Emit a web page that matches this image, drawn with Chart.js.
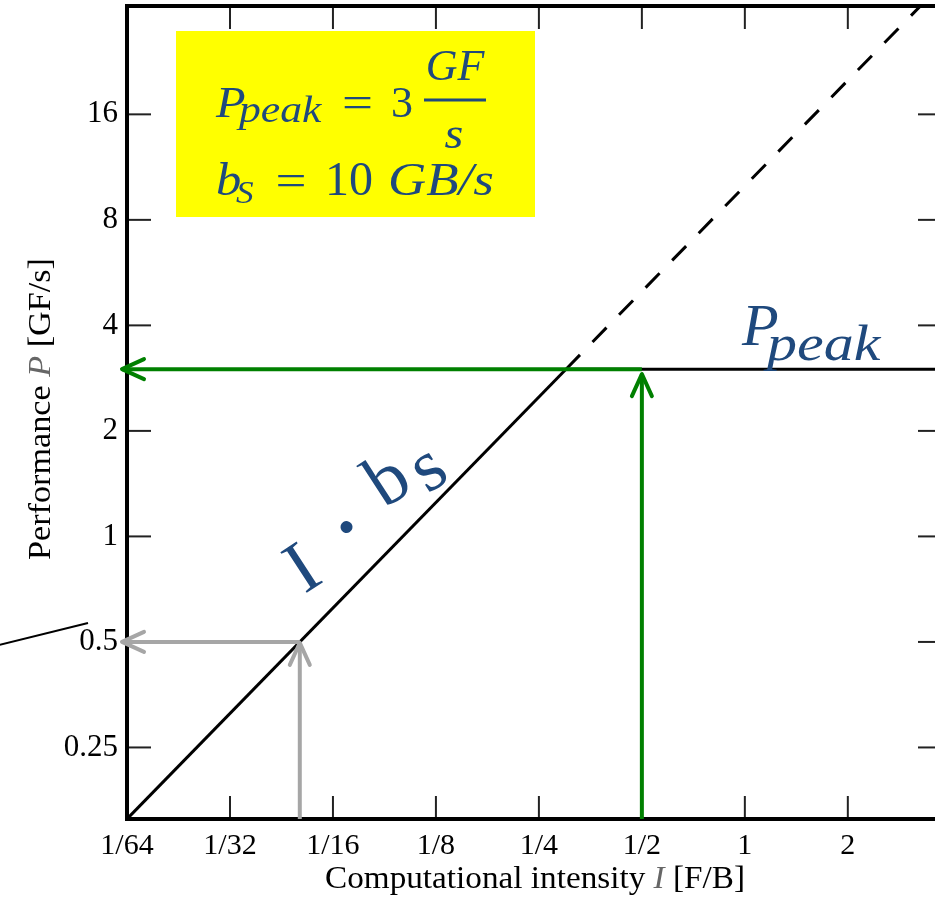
<!DOCTYPE html>
<html><head><meta charset="utf-8">
<script src="https://cdn.jsdelivr.net/npm/chart.js@4/dist/chart.umd.min.js"></script>
<style>
html,body{margin:0;padding:0;background:#fff;overflow:hidden;width:935px;height:898px}
#wrap{width:960px;height:898px}
canvas{display:block}
</style>
</head><body><div id="wrap"><canvas id="c" width="960" height="898"></canvas></div>
<script>
// ---- data ----
const xTickValues = [1/64, 1/32, 1/16, 1/8, 1/4, 1/2, 1, 2];
const xTickLabels = ['1/64', '1/32', '1/16', '1/8', '1/4', '1/2', '1', '2'];
const yTickValues = [0.25, 0.5, 1, 2, 4, 8, 16];
const yTickLabels = ['0.25', '0.5', '1', '2', '4', '8', '16'];
const xRange = [1/64, 3.77];
const yRange = [0.15625, 32.6];
const memBoundI = [1/64, 0.3];
const memBoundP = [0.15625, 3];
const memDashedI = [0.3, 3.6];
const memDashedP = [3, 36];
const peakI = [0.3, 3.77];
const peakP = [3, 3];
const greenArrowI = 0.5, greenArrowP = 3;
const grayArrowI = 0.05, grayArrowP = 0.5;

const BLUE = '#1F497D';
const GREEN = 'rgb(0,128,0)';
const GRAY = 'rgb(166,166,166)';

const pts = (xs, ys) => xs.map((x, i) => ({x: x, y: ys[i]}));

function seg(c, x1, y1, x2, y2) { c.beginPath(); c.moveTo(x1, y1); c.lineTo(x2, y2); c.stroke(); }
function arrow(c, x1, y1, x2, y2, color, w) {
  c.save(); c.strokeStyle = color; c.lineWidth = w; c.lineCap = 'butt';
  seg(c, x1, y1, x2, y2);
  const ang = Math.atan2(y2 - y1, x2 - x1), L = 22, H = 10;
  const bx = -Math.cos(ang), by = -Math.sin(ang), px = -Math.sin(ang), py = Math.cos(ang);
  c.lineCap = 'round'; c.lineJoin = 'round';
  c.beginPath();
  c.moveTo(x2 + L * bx + H * px, y2 + L * by + H * py);
  c.lineTo(x2, y2);
  c.lineTo(x2 + L * bx - H * px, y2 + L * by - H * py);
  c.stroke(); c.restore();
}
function txt(c, s, x, y, font, color, align, sx) {
  c.save(); c.font = font; c.fillStyle = color; c.textAlign = align || 'left'; c.textBaseline = 'alphabetic';
  c.translate(x, y); c.scale(sx || 1, 1); c.fillText(s, 0, 0); c.restore();
}
function glyphAt(c, s, cx, cy, font, color, rot) {
  c.save(); c.font = font; c.fillStyle = color; c.textAlign = 'left'; c.textBaseline = 'alphabetic';
  const m = c.measureText(s);
  const ox = (m.actualBoundingBoxRight - m.actualBoundingBoxLeft) / 2;
  const oy = (m.actualBoundingBoxDescent - m.actualBoundingBoxAscent) / 2;
  c.translate(cx, cy); c.rotate(rot); c.fillText(s, -ox, -oy); c.restore();
}
function runs(c, pieces, cx, y, width) {
  c.save();
  let total = 0;
  pieces.forEach(p => { c.font = p[1]; total += c.measureText(p[0]).width; });
  const sx = width ? width / total : 1;
  c.translate(cx - total * sx / 2, y); c.scale(sx, 1);
  let x = 0;
  c.textBaseline = 'alphabetic'; c.textAlign = 'left';
  pieces.forEach(p => { c.font = p[1]; c.fillStyle = p[2]; c.fillText(p[0], x, 0); x += c.measureText(p[0]).width; });
  c.restore();
}

const deco = {
  id: 'deco',
  beforeDraw(chart) {
    const c = chart.ctx; c.save(); c.fillStyle = '#fff'; c.fillRect(0, 0, chart.width, chart.height); c.restore();
  },
  afterDraw(chart) {
    const c = chart.ctx, xs = chart.scales.x, ys = chart.scales.y, a = chart.chartArea;
    const X = v => xs.getPixelForValue(v), Y = v => ys.getPixelForValue(v);
    c.save();
    c.strokeStyle = '#222'; c.lineWidth = 2;
    xTickValues.forEach(v => { const px = X(v); seg(c, px, a.bottom, px, a.bottom - 23); seg(c, px, a.top, px, a.top + 23); });
    yTickValues.forEach(v => { const py = Y(v); seg(c, a.left, py, a.left + 24, py); seg(c, a.right, py, a.right - 24, py); });
    c.strokeStyle = '#000'; c.lineWidth = 4;
    c.strokeRect(a.left, a.top, a.right - a.left, a.bottom - a.top);
    c.restore();

    arrow(c, X(greenArrowI), Y(greenArrowP), a.left - 5, Y(greenArrowP), GREEN, 4);
    arrow(c, X(greenArrowI), a.bottom, X(greenArrowI), Y(greenArrowP) + 5, GREEN, 4);
    arrow(c, X(grayArrowI), Y(grayArrowP), a.left - 5, Y(grayArrowP), GRAY, 4);
    arrow(c, X(grayArrowI), a.bottom, X(grayArrowI), Y(grayArrowP) + 1, GRAY, 4);

    c.save(); c.strokeStyle = '#000'; c.lineWidth = 2; seg(c, -5, 646, 88, 623); c.restore();

    runs(c, [['Computational intensity ', '32px "Liberation Serif"', '#000'],
             ['I', 'italic 32px "Liberation Serif"', '#666'],
             [' [F/B]', '32px "Liberation Serif"', '#000']], 535, 888, 420);
    c.save(); c.translate(50, 409); c.rotate(-Math.PI / 2);
    runs(c, [['Performance ', '32px "Liberation Serif"', '#000'],
             ['P', 'italic 32px "Liberation Serif"', '#666'],
             [' [GF/s]', '32px "Liberation Serif"', '#000']], 0, 0, 302);
    c.restore();

    c.save(); c.fillStyle = '#FFFF00'; c.fillRect(176, 31, 359, 186); c.restore();
    txt(c, 'P', 216, 117, 'italic 44px "Liberation Serif"', BLUE, 'left', 1.1);
    txt(c, 'peak', 239, 122, 'italic 38px "Liberation Serif"', BLUE, 'left', 1.15);
    txt(c, '=', 357.5, 117, '44px "Liberation Serif"', BLUE, 'center', 1.25);
    txt(c, '3', 391, 117, '44px "Liberation Serif"', BLUE, 'left', 1);
    txt(c, 'GF', 455, 80, 'italic 44px "Liberation Serif"', BLUE, 'center', 1);
    c.save(); c.strokeStyle = BLUE; c.lineWidth = 3; seg(c, 424, 100, 486, 100); c.restore();
    txt(c, 's', 454, 148, 'italic 44px "Liberation Serif"', BLUE, 'center', 1.1);
    txt(c, 'b', 216, 195, 'italic 46px "Liberation Serif"', BLUE, 'left', 1.1);
    txt(c, 'S', 236, 203, 'italic 32px "Liberation Serif"', BLUE, 'left', 1.1);
    txt(c, '=', 291, 195, '44px "Liberation Serif"', BLUE, 'center', 1.25);
    txt(c, '10', 325, 195, '48px "Liberation Serif"', BLUE, 'left', 1.0);
    txt(c, 'GB/s', 388, 195, 'italic 46px "Liberation Serif"', BLUE, 'left', 1.15);

    txt(c, 'P', 742, 345, 'italic 60px "Liberation Serif"', BLUE, 'left', 1);
    txt(c, 'peak', 767, 360, 'italic 50px "Liberation Serif"', BLUE, 'left', 1.2);

    const rot = -33 * Math.PI / 180, f = '74px "Liberation Serif"';
    glyphAt(c, 'I', 301.7, 567, f, BLUE, rot);
    glyphAt(c, '\u00B7', 346, 526, 'bold 74px "Liberation Serif"', BLUE, rot);
    glyphAt(c, 'b', 385, 478, f, BLUE, rot);
    glyphAt(c, 's', 430.7, 471.7, f, BLUE, rot);
  }
};

new Chart(document.getElementById('c').getContext('2d'), {
  type: 'line',
  data: {
    datasets: [
      {data: pts(memBoundI, memBoundP), borderColor: '#000', borderWidth: 3, pointRadius: 0, fill: false, tension: 0},
      {data: pts(memDashedI, memDashedP), borderColor: '#000', borderWidth: 3, borderDash: [20, 18], pointRadius: 0, fill: false, tension: 0},
      {data: pts(peakI, peakP), borderColor: '#000', borderWidth: 3, pointRadius: 0, fill: false, tension: 0}
    ]
  },
  options: {
    responsive: false,
    animation: false,
    events: [],
    layout: {padding: {left: 0, top: 6, right: 18, bottom: 0}},
    plugins: {legend: {display: false}, tooltip: {enabled: false}},
    scales: {
      x: {
        type: 'logarithmic', min: xRange[0], max: xRange[1],
        grid: {display: false}, border: {display: false},
        afterBuildTicks: s => { s.ticks = xTickValues.map(v => ({value: v})); },
        afterFit: s => { s.height = 79; s.paddingLeft = 0; s.paddingRight = 0; },
        ticks: {autoSkip: false, maxRotation: 0, minRotation: 0, padding: 1, color: '#000',
                font: {family: 'Liberation Serif', size: 30},
                callback: (v, i) => xTickLabels[i]}
      },
      y: {
        type: 'logarithmic', min: yRange[0], max: yRange[1],
        grid: {display: false}, border: {display: false},
        afterBuildTicks: s => { s.ticks = yTickValues.map(v => ({value: v})); },
        afterFit: s => { s.width = 127; s.paddingTop = 0; s.paddingBottom = 0; },
        ticks: {autoSkip: false, padding: 1, color: '#000',
                font: {family: 'Liberation Serif', size: 31},
                callback: (v, i) => yTickLabels[i]}
      }
    }
  },
  plugins: [deco]
});
</script>
</body></html>
